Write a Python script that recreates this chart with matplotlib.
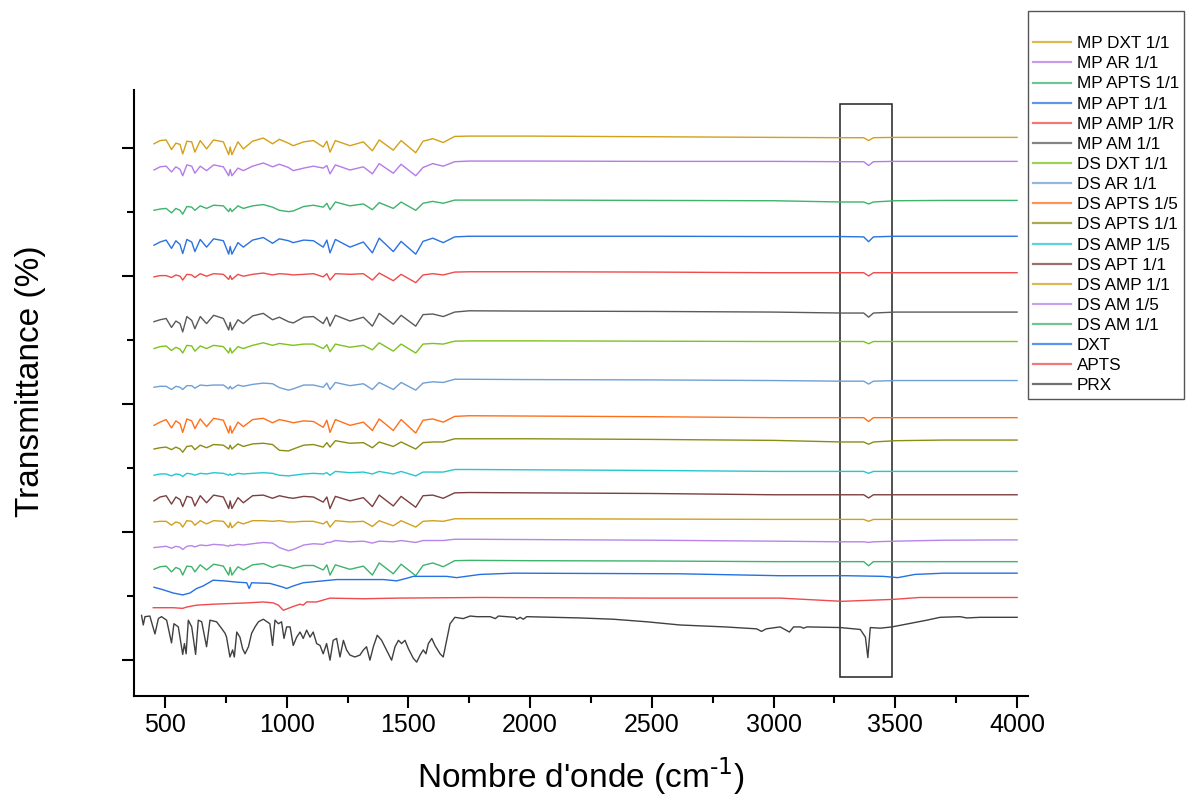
import matplotlib.pyplot as plt
from matplotlib.patches import Rectangle
from matplotlib.ticker import MultipleLocator
import numpy as np

plt.rcParams['font.family'] = ['Liberation Sans', 'DejaVu Sans']
plt.rcParams['mathtext.default'] = 'regular'

# grilles de nombres d'onde (cm-1) communes aux melanges
wn_fp = [455, 480, 505, 527, 545, 562, 573, 590, 610, 623, 645, 671, 700, 740, 762, 768, 775, 800, 822, 860,
         904, 942, 970, 1007, 1027, 1070, 1110, 1150, 1165, 1178, 1200, 1260, 1315, 1352, 1380, 1438, 1470,
         1530, 1560, 1600, 1643, 1690]
wn_hi = [1750, 2000, 2500, 3000, 3280, 3370, 3390, 3410, 3500, 3700, 4000]

# niveau de base (decalage) de chaque spectre
levels = {
    'MP DXT 1/1': 81.9, 'MP AR 1/1': 78.0, 'MP APTS 1/1': 71.9, 'MP APT 1/1': 66.25,
    'MP AMP 1/R': 60.7, 'MP AM 1/1': 54.6, 'DS DXT 1/1': 49.9, 'DS AR 1/1': 43.9,
    'DS APTS 1/5': 38.2, 'DS APTS 1/1': 34.6, 'DS AMP 1/5': 29.8, 'DS APT 1/1': 26.2,
    'DS AMP 1/1': 22.1, 'DS AM 1/5': 18.9, 'DS AM 1/1': 15.6,
}

# profondeur des bandes sous le niveau de base, region 455-1690
mp_dxt_fp = [1.2, 0.7, 0.6, 2.1, 1.1, 1.3, 2.8, 0.8, 0.9, 2.5, 0.7, 2.0, 0.6, 0.9, 2.9, 1.7, 2.9, 0.9, 2.0, 0.8,
             0.3, 1.2, 0.5, 1.1, 1.5, 0.9, 0.7, 1.7, 0.8, 2.5, 0.7, 1.5, 0.9, 2.3, 0.6, 2.2, 0.7, 2.6, 0.8, 0.4,
             1.0, 0.05]
mp_ar_fp = [1.4, 0.9, 0.8, 1.7, 0.9, 1.3, 2.3, 0.6, 0.8, 1.9, 0.8, 1.5, 0.6, 0.9, 2.3, 1.3, 2.3, 1.1, 1.5, 0.8,
            0.3, 0.9, 0.5, 1.0, 1.5, 1.1, 0.8, 1.1, 0.7, 2.0, 0.6, 1.4, 0.9, 2.0, 0.4, 1.9, 0.5, 2.3, 1.0, 0.4,
            0.8, 0.1]
mp_apts_fp = [1.6, 1.4, 1.3, 2.0, 1.3, 1.6, 2.2, 1.0, 1.1, 1.6, 0.9, 1.3, 0.8, 0.9, 1.8, 1.3, 1.8, 0.9, 1.3, 0.9,
              0.7, 1.1, 1.6, 1.8, 1.7, 1.0, 0.8, 1.1, 0.5, 1.5, 0.3, 0.9, 0.6, 1.5, 0.4, 1.3, 0.3, 1.6, 0.5, 0.2,
              0.5, 0.0]
mp_apt_fp = [1.4, 0.9, 0.6, 1.9, 0.7, 1.3, 2.7, 0.5, 0.9, 2.4, 0.5, 1.7, 0.4, 0.7, 2.8, 1.6, 2.8, 1.0, 1.7, 0.6,
             0.2, 1.1, 0.4, 0.7, 1.0, 0.6, 0.7, 1.7, 0.6, 2.6, 0.5, 1.7, 0.9, 2.6, 0.3, 2.4, 0.8, 2.8, 0.8, 0.3,
             1.0, 0.1]
mp_amp_fp = [0.8, 0.6, 0.6, 0.9, 0.5, 0.7, 1.3, 0.4, 0.5, 0.9, 0.3, 0.7, 0.3, 0.4, 1.2, 0.6, 1.2, 0.4, 0.7, 0.4,
             0.2, 0.5, 0.3, 0.4, 0.5, 0.4, 0.3, 0.8, 0.3, 1.3, 0.3, 0.4, 0.3, 1.3, 0.2, 1.4, 0.4, 1.7, 0.5, 0.3,
             0.5, 0.05]
mp_am_fp = [1.7, 1.4, 1.2, 2.6, 1.6, 2.0, 3.3, 0.9, 1.5, 2.8, 0.9, 2.0, 0.7, 1.2, 3.0, 1.8, 3.0, 1.4, 2.0, 0.8,
            0.4, 1.4, 1.0, 1.7, 1.9, 1.0, 0.9, 2.0, 1.0, 2.4, 0.7, 1.6, 1.0, 2.4, 0.4, 2.1, 0.7, 2.4, 0.6, 0.5,
            0.9, 0.2]
ds_dxt_fp = [1.2, 0.9, 0.8, 1.5, 1.0, 1.3, 1.9, 0.7, 0.8, 1.6, 0.8, 1.2, 0.7, 0.9, 1.9, 1.1, 1.9, 0.9, 1.2, 0.7,
             0.3, 0.7, 0.4, 0.6, 0.7, 0.5, 0.5, 1.2, 0.6, 1.7, 0.5, 1.0, 0.7, 1.4, 0.3, 1.6, 0.5, 1.9, 0.5, 0.4,
             0.5, 0.05]
ds_ar_fp = [1.25, 1.1, 1.1, 1.6, 1.1, 1.25, 1.6, 1.0, 1.0, 1.4, 0.9, 1.0, 0.9, 0.9, 1.5, 1.1, 1.5, 0.9, 1.1, 0.8,
            0.6, 0.7, 1.3, 1.7, 1.5, 0.9, 0.9, 1.25, 0.6, 1.6, 0.5, 1.0, 0.7, 1.6, 0.5, 1.6, 0.5, 1.7, 0.6, 0.4,
            0.5, 0.0]
ds_apts15_fp = [1.5, 1.0, 0.6, 1.9, 0.8, 1.25, 2.6, 0.5, 0.8, 2.0, 0.5, 1.7, 0.4, 0.7, 2.7, 1.6, 2.7, 1.0, 1.7, 0.6,
                0.4, 1.1, 0.6, 0.9, 1.1, 0.8, 0.9, 1.8, 0.7, 2.6, 0.6, 1.5, 1.0, 2.3, 0.5, 2.3, 0.6, 2.7, 0.7, 0.5,
                1.0, 0.1]
ds_apts11_fp = [1.6, 1.4, 1.3, 1.7, 1.3, 1.6, 2.1, 1.2, 1.1, 1.7, 1.0, 1.4, 0.9, 1.0, 1.6, 1.0, 1.6, 0.8, 1.2, 0.8,
                0.7, 0.9, 1.8, 1.9, 1.6, 1.0, 0.9, 1.3, 0.6, 1.3, 0.3, 0.7, 0.6, 1.4, 0.5, 1.2, 0.5, 1.6, 0.6, 0.5,
                0.5, 0.0]
ds_amp15_fp = [0.9, 0.7, 0.7, 1.0, 0.7, 0.8, 1.1, 0.6, 0.7, 0.9, 0.6, 0.7, 0.5, 0.6, 0.9, 0.7, 0.9, 0.6, 0.7, 0.6,
               0.5, 0.6, 0.9, 1.0, 0.9, 0.7, 0.6, 0.7, 0.5, 0.9, 0.3, 0.5, 0.4, 0.7, 0.3, 0.7, 0.3, 1.0, 0.4, 0.4,
               0.4, 0.0]
ds_apt_fp = [1.3, 0.7, 0.5, 1.8, 0.7, 1.1, 2.2, 0.6, 0.8, 2.1, 0.5, 1.6, 0.4, 0.7, 2.5, 1.3, 2.5, 0.8, 1.6, 0.5,
             0.4, 0.9, 0.5, 0.8, 0.9, 0.6, 0.7, 1.5, 0.7, 2.5, 0.6, 1.3, 0.8, 2.2, 0.4, 2.1, 0.6, 2.3, 0.5, 0.4,
             0.9, 0.05]
ds_amp11_fp = [0.5, 0.4, 0.4, 1.0, 0.5, 0.7, 1.3, 0.3, 0.4, 1.0, 0.3, 0.8, 0.3, 0.4, 1.4, 0.6, 1.4, 0.5, 0.8, 0.3,
               0.3, 0.4, 0.3, 0.5, 0.5, 0.4, 0.4, 0.8, 0.4, 1.3, 0.3, 0.5, 0.4, 1.2, 0.3, 1.1, 0.3, 1.3, 0.4, 0.3,
               0.4, 0.0]
ds_am15_fp = [1.3, 1.2, 1.1, 1.4, 1.1, 1.25, 1.6, 1.1, 1.0, 1.2, 0.9, 1.0, 0.8, 0.9, 1.1, 0.9, 1.0, 0.8, 0.9, 0.7,
              0.5, 0.6, 1.3, 1.8, 1.6, 0.9, 0.7, 0.8, 0.5, 0.5, 0.2, 0.4, 0.3, 0.6, 0.3, 0.4, 0.2, 0.5, 0.2, 0.2,
              0.2, 0.0]
ds_am11_fp = [1.4, 1.0, 0.9, 1.8, 1.1, 1.4, 2.3, 0.9, 1.0, 1.8, 0.7, 1.5, 0.6, 0.9, 2.3, 1.1, 2.3, 1.0, 1.5, 0.7,
              0.5, 1.1, 0.7, 1.0, 1.25, 0.8, 0.8, 1.5, 0.7, 2.3, 0.7, 1.4, 0.9, 2.3, 0.4, 2.1, 0.6, 2.4, 0.8, 0.4,
              1.0, 0.05]

# profondeur region 1750-4000 (bande fine vers 3390)
mp_dxt_hi = [0, 0.0, 0.1, 0.2, 0.25, 0.25, 0.7, 0.25, 0.2, 0.2, 0.2]
mp_ar_hi = [0, 0.0, 0.05, 0.05, 0.1, 0.1, 0.7, 0.1, 0.05, 0.05, 0.05]
mp_apts_hi = [0, 0.0, 0.05, 0.1, 0.3, 0.3, 0.6, 0.3, 0.1, 0.05, 0.05]
mp_apt_hi = [0, 0.0, 0.0, 0.05, 0.05, 0.1, 0.85, 0.1, 0.0, 0.0, 0.0]
mp_amp_hi = [0, 0.0, 0.05, 0.15, 0.15, 0.15, 0.65, 0.15, 0.15, 0.15, 0.15]
mp_am_hi = [0, 0.05, 0.1, 0.2, 0.35, 0.35, 1.0, 0.35, 0.2, 0.2, 0.2]
ds_dxt_hi = [0, 0.0, 0.05, 0.1, 0.1, 0.1, 0.45, 0.1, 0.1, 0.1, 0.1]
ds_ar_hi = [0, 0.05, 0.1, 0.2, 0.3, 0.3, 0.75, 0.3, 0.2, 0.2, 0.2]
ds_apts15_hi = [0, 0.05, 0.15, 0.3, 0.3, 0.3, 0.9, 0.3, 0.3, 0.3, 0.3]
ds_apts11_hi = [0, 0.0, 0.1, 0.25, 0.5, 0.5, 0.85, 0.5, 0.3, 0.2, 0.2]
ds_amp15_hi = [0, 0.05, 0.15, 0.3, 0.3, 0.3, 0.6, 0.3, 0.3, 0.3, 0.3]
ds_apt_hi = [0, 0.05, 0.15, 0.35, 0.35, 0.35, 0.85, 0.35, 0.35, 0.35, 0.35]
ds_amp11_hi = [0, 0.0, 0.05, 0.1, 0.1, 0.1, 0.4, 0.1, 0.1, 0.1, 0.1]
ds_am15_hi = [0, 0.05, 0.15, 0.3, 0.4, 0.4, 0.5, 0.4, 0.3, 0.15, 0.1]
ds_am11_hi = [0, 0.05, 0.1, 0.2, 0.2, 0.2, 0.85, 0.2, 0.2, 0.2, 0.2]

# spectres des produits purs
dxt_wn = [455, 493, 534, 573, 603, 630, 657, 698, 740, 795, 836, 846, 856, 931, 959, 986, 1000, 1027, 1068, 1150,
          1205, 1397, 1452, 1493, 1520, 1657, 1698, 1794, 1931, 2616, 3027, 3300, 3450, 3510, 3580, 3700, 4000]
dxt_t = [11.4, 11.0, 10.5, 10.2, 10.5, 11.2, 11.6, 12.5, 12.4, 12.2, 12.1, 11.2, 12.1, 12.0, 11.7, 11.4, 11.2, 11.6,
         12.1, 12.4, 12.6, 12.6, 12.4, 12.8, 13.1, 13.1, 12.9, 13.4, 13.6, 13.5, 13.2, 13.2, 13.1, 12.9, 13.4, 13.6,
         13.6]

apts_wn = [452, 493, 534, 573, 589, 630, 698, 767, 836, 904, 945, 966, 986, 1000, 1027, 1055, 1068, 1082, 1123, 1150,
           1178, 1315, 1452, 1794, 2500, 3027, 3280, 3490, 3600, 4000]
apts_t = [8.2, 8.2, 8.2, 8.1, 8.3, 8.6, 8.75, 8.85, 8.95, 9.1, 8.95, 8.6, 7.8, 8.0, 8.4, 8.75, 8.6, 9.1, 9.1, 9.4,
          9.7, 9.6, 9.7, 9.8, 9.7, 9.7, 9.2, 9.5, 9.8, 9.8]

prx_wn = [404, 411, 418, 438, 459, 473, 486, 507, 527, 537, 555, 573, 580, 587, 596, 610, 626, 637, 651, 671,
          685, 712, 733, 747, 753, 767, 778, 785, 795, 808, 819, 829, 843, 856, 870, 884, 904, 931, 942, 952,
          966, 979, 989, 1000, 1014, 1027, 1041, 1055, 1068, 1082, 1096, 1109, 1123, 1137, 1150, 1164, 1178, 1191,
          1205, 1219, 1233, 1246, 1260, 1280, 1301, 1315, 1328, 1342, 1356, 1372, 1390, 1410, 1431, 1445, 1459,
          1472, 1486, 1500, 1520, 1534, 1548, 1561, 1572, 1582, 1596, 1609, 1630, 1643, 1657, 1671, 1691, 1725,
          1754, 1781, 1836, 1857, 1870, 1904, 1938, 1945, 1959, 1972, 1986, 2205, 2342, 2479, 2616, 2800, 2930,
          2950, 2970, 3027, 3065, 3082, 3110, 3123, 3137, 3274, 3356, 3377, 3387, 3397, 3438, 3486, 3629, 3684,
          3766, 3793, 3848, 4000]
prx_t = [7.0, 5.5, 6.8, 6.9, 4.1, 6.5, 6.8, 6.25, 2.7, 5.7, 5.2, 0.9, 2.6, 1.0, 6.25, 5.2, 0.9, 6.25, 6.0, 2.1,
         6.25, 6.0, 4.95, 4.2, 3.6, 0.5, 1.6, 0.5, 4.4, 3.6, 1.8, 1.0, 2.1, 4.2, 5.2, 6.0, 6.4, 5.7, 2.3, 6.25,
         5.7, 6.0, 3.4, 5.2, 5.2, 2.3, 3.6, 4.4, 3.4, 4.7, 3.6, 4.4, 2.6, 2.3, 1.0, 2.6, 0.0, 3.1,
         3.4, 0.5, 3.1, 1.6, 0.8, 0.5, 0.8, 1.6, 2.1, 0.0, 2.1, 3.9, 3.1, 1.6, 0.0, 2.1, 3.1,
         2.6, 3.1, 1.8, 0.3, -0.3, 0.8, 1.6, 1.0, 2.6, 3.4, 2.3, 1.0, 0.5, 3.1, 5.7, 6.7, 6.5,
         6.9, 6.8, 6.8, 6.5, 6.9, 6.8, 6.7, 6.4, 6.7, 6.4, 6.8, 6.6, 6.4, 6.0, 5.5, 5.2, 4.9,
         4.5, 4.9, 5.2, 4.4, 5.2, 5.2, 5.0, 5.2, 5.1, 4.8, 3.6, 0.4, 5.1, 5.0, 5.2, 6.25, 6.7,
         6.8, 6.6, 6.7, 6.7]

mixtures = [
    ('MP DXT 1/1', mp_dxt_fp, mp_dxt_hi, '#D4A017'),
    ('MP AR 1/1', mp_ar_fp, mp_ar_hi, '#B57BE6'),
    ('MP APTS 1/1', mp_apts_fp, mp_apts_hi, '#3DB36B'),
    ('MP APT 1/1', mp_apt_fp, mp_apt_hi, '#2A72E0'),
    ('MP AMP 1/R', mp_amp_fp, mp_amp_hi, '#F04A4A'),
    ('MP AM 1/1', mp_am_fp, mp_am_hi, '#5A5A5A'),
    ('DS DXT 1/1', ds_dxt_fp, ds_dxt_hi, '#7DC21E'),
    ('DS AR 1/1', ds_ar_fp, ds_ar_hi, '#6E9FD6'),
    ('DS APTS 1/5', ds_apts15_fp, ds_apts15_hi, '#FF6F1A'),
    ('DS APTS 1/1', ds_apts11_fp, ds_apts11_hi, '#8C8C14'),
    ('DS AMP 1/5', ds_amp15_fp, ds_amp15_hi, '#26C6CF'),
    ('DS APT 1/1', ds_apt_fp, ds_apt_hi, '#7B3F3F'),
    ('DS AMP 1/1', ds_amp11_fp, ds_amp11_hi, '#D1A01E'),
    ('DS AM 1/5', ds_am15_fp, ds_am15_hi, '#B884E8'),
    ('DS AM 1/1', ds_am11_fp, ds_am11_hi, '#3DB36B'),
]

# zone encadree (bande O-H / N-H)
box_wn = (3273, 3486)
box_t = (-2.66, 86.9)

fig = plt.figure(figsize=(11.87, 7.96), dpi=100)
ax = fig.add_axes([0.1129, 0.1256, 0.7532, 0.7613])

handles = []
labels = []
x_mix = np.array(wn_fp + wn_hi)
for name, d_fp, d_hi, col in mixtures:
    y = levels[name] - np.array(d_fp + d_hi)
    ln, = ax.plot(x_mix, y, color=col, lw=1.0)
    handles.append(ln)
    labels.append(name)

for name, xw, yt, col in [('DXT', dxt_wn, dxt_t, '#2471E3'),
                          ('APTS', apts_wn, apts_t, '#F0494E'),
                          ('PRX', prx_wn, prx_t, '#404040')]:
    ln, = ax.plot(xw, yt, color=col, lw=1.0)
    handles.append(ln)
    labels.append(name)

ax.add_patch(Rectangle((box_wn[0], box_t[0]), box_wn[1] - box_wn[0], box_t[1] - box_t[0],
                       fill=False, edgecolor='#222222', lw=1.1))

ax.set_xlim(373, 4045)
ax.set_ylim(-5.6, 89.1)
ax.set_xticks(range(500, 4001, 500))
ax.xaxis.set_minor_locator(MultipleLocator(250))
ax.set_yticks([0, 20, 40, 60, 80])
ax.yaxis.set_minor_locator(MultipleLocator(10))
ax.set_yticklabels([])
ax.tick_params(which='major', length=8.5, width=1.5, direction='out', labelsize=18, pad=4)
ax.tick_params(which='minor', length=4.7, width=1.5, direction='out')
for s in ['top', 'right']:
    ax.spines[s].set_visible(False)
for s in ['left', 'bottom']:
    ax.spines[s].set_linewidth(1.5)

ax.set_xlabel("Nombre d'onde (cm$^{\\text{-1}}$)", fontsize=24)
ax.xaxis.set_label_coords(0.5, -0.098)
ax.set_ylabel('Transmittance (%)', fontsize=24)
ax.yaxis.set_label_coords(-0.099, 0.52)

leg = ax.legend(handles, labels, loc='upper left', bbox_to_anchor=(1028 / 1187, 1 - 11 / 796),
                bbox_transform=fig.transFigure, fontsize=12.3, frameon=True, fancybox=False,
                edgecolor='#555555', borderaxespad=0, borderpad=0.3, labelspacing=0.3,
                handlelength=2.2, handletextpad=0.35, title=' ', title_fontsize=12.3)
leg.get_frame().set_linewidth(1.0)
leg.get_frame().set_alpha(1)
for hl in leg.get_lines():
    hl.set_linewidth(1.6)
    hl.set_alpha(0.75)

fig.savefig('out.png', dpi=100)
